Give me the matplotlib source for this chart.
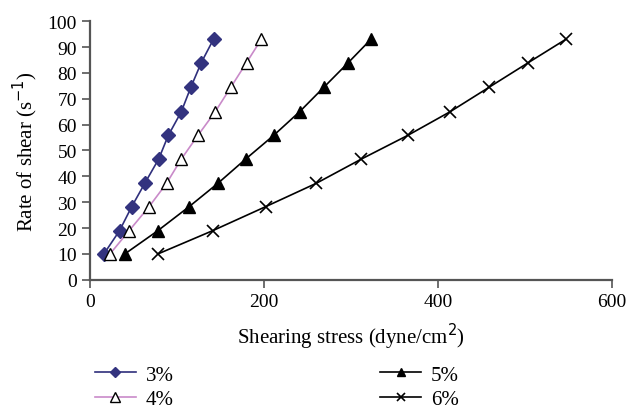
import matplotlib.pyplot as plt

# shearing stress (dyne/cm2), rate of shear (1/s)
rate = [10, 19, 28.3, 37.3, 46.7, 55.8, 65, 74.5, 84, 93]
stress_3 = [16, 34, 48, 63, 79, 90, 105, 116, 128, 142]
stress_4 = [23, 45, 68, 88, 105, 124, 144, 162, 180, 197]
stress_5 = [40, 78, 114, 147, 179, 211, 241, 269, 297, 323]
stress_6 = [78, 141, 202, 260, 312, 365, 414, 459, 504, 547]
labels = ['3%', '4%', '5%', '6%']

plt.rcParams['font.family'] = ['Liberation Serif', 'DejaVu Serif']

fig = plt.figure(figsize=(6.29, 4.10), dpi=100)
ax = fig.add_axes([0.143, 0.315, 0.830, 0.631])

ax.plot(stress_3, rate, color='#2f2f7c', lw=1.2, marker='D', ms=7,
        mfc='#33337f', mec='#33337f', label=labels[0])
ax.plot(stress_4, rate, color='#c98ac9', lw=1.2, marker='^', ms=9,
        mfc='white', mec='black', mew=1.0, label=labels[1])
ax.plot(stress_5, rate, color='black', lw=1.2, marker='^', ms=8,
        mfc='black', mec='black', label=labels[2])
ax.plot(stress_6, rate, color='black', lw=1.2, marker='x', ms=8,
        mew=1.2, label=labels[3])

ax.set_xlim(0, 600)
ax.set_ylim(0, 100)
ax.set_xticks([0, 200, 400, 600])
ax.set_yticks(range(0, 101, 10))
for s in ['top', 'right']:
    ax.spines[s].set_visible(False)
for s in ['left', 'bottom']:
    ax.spines[s].set_color('#555555')
    ax.spines[s].set_linewidth(1.6)
ax.tick_params(direction='out', length=6, width=1.2, color='#555555',
               labelsize=14)

ax.set_xlabel('Shearing stress (dyne/cm$^2$)', fontsize=15, labelpad=8)
ax.set_ylabel('Rate of shear (s$^{-1}$)', fontsize=15, labelpad=5)

fig.legend(loc='lower left', bbox_to_anchor=(0.137, -0.02), ncol=2,
           frameon=False, fontsize=15, handlelength=2.0, markerscale=0.75,
           columnspacing=9.9, labelspacing=0.22, handletextpad=0.45,
           borderaxespad=0)

fig.savefig('out.png', dpi=100)
